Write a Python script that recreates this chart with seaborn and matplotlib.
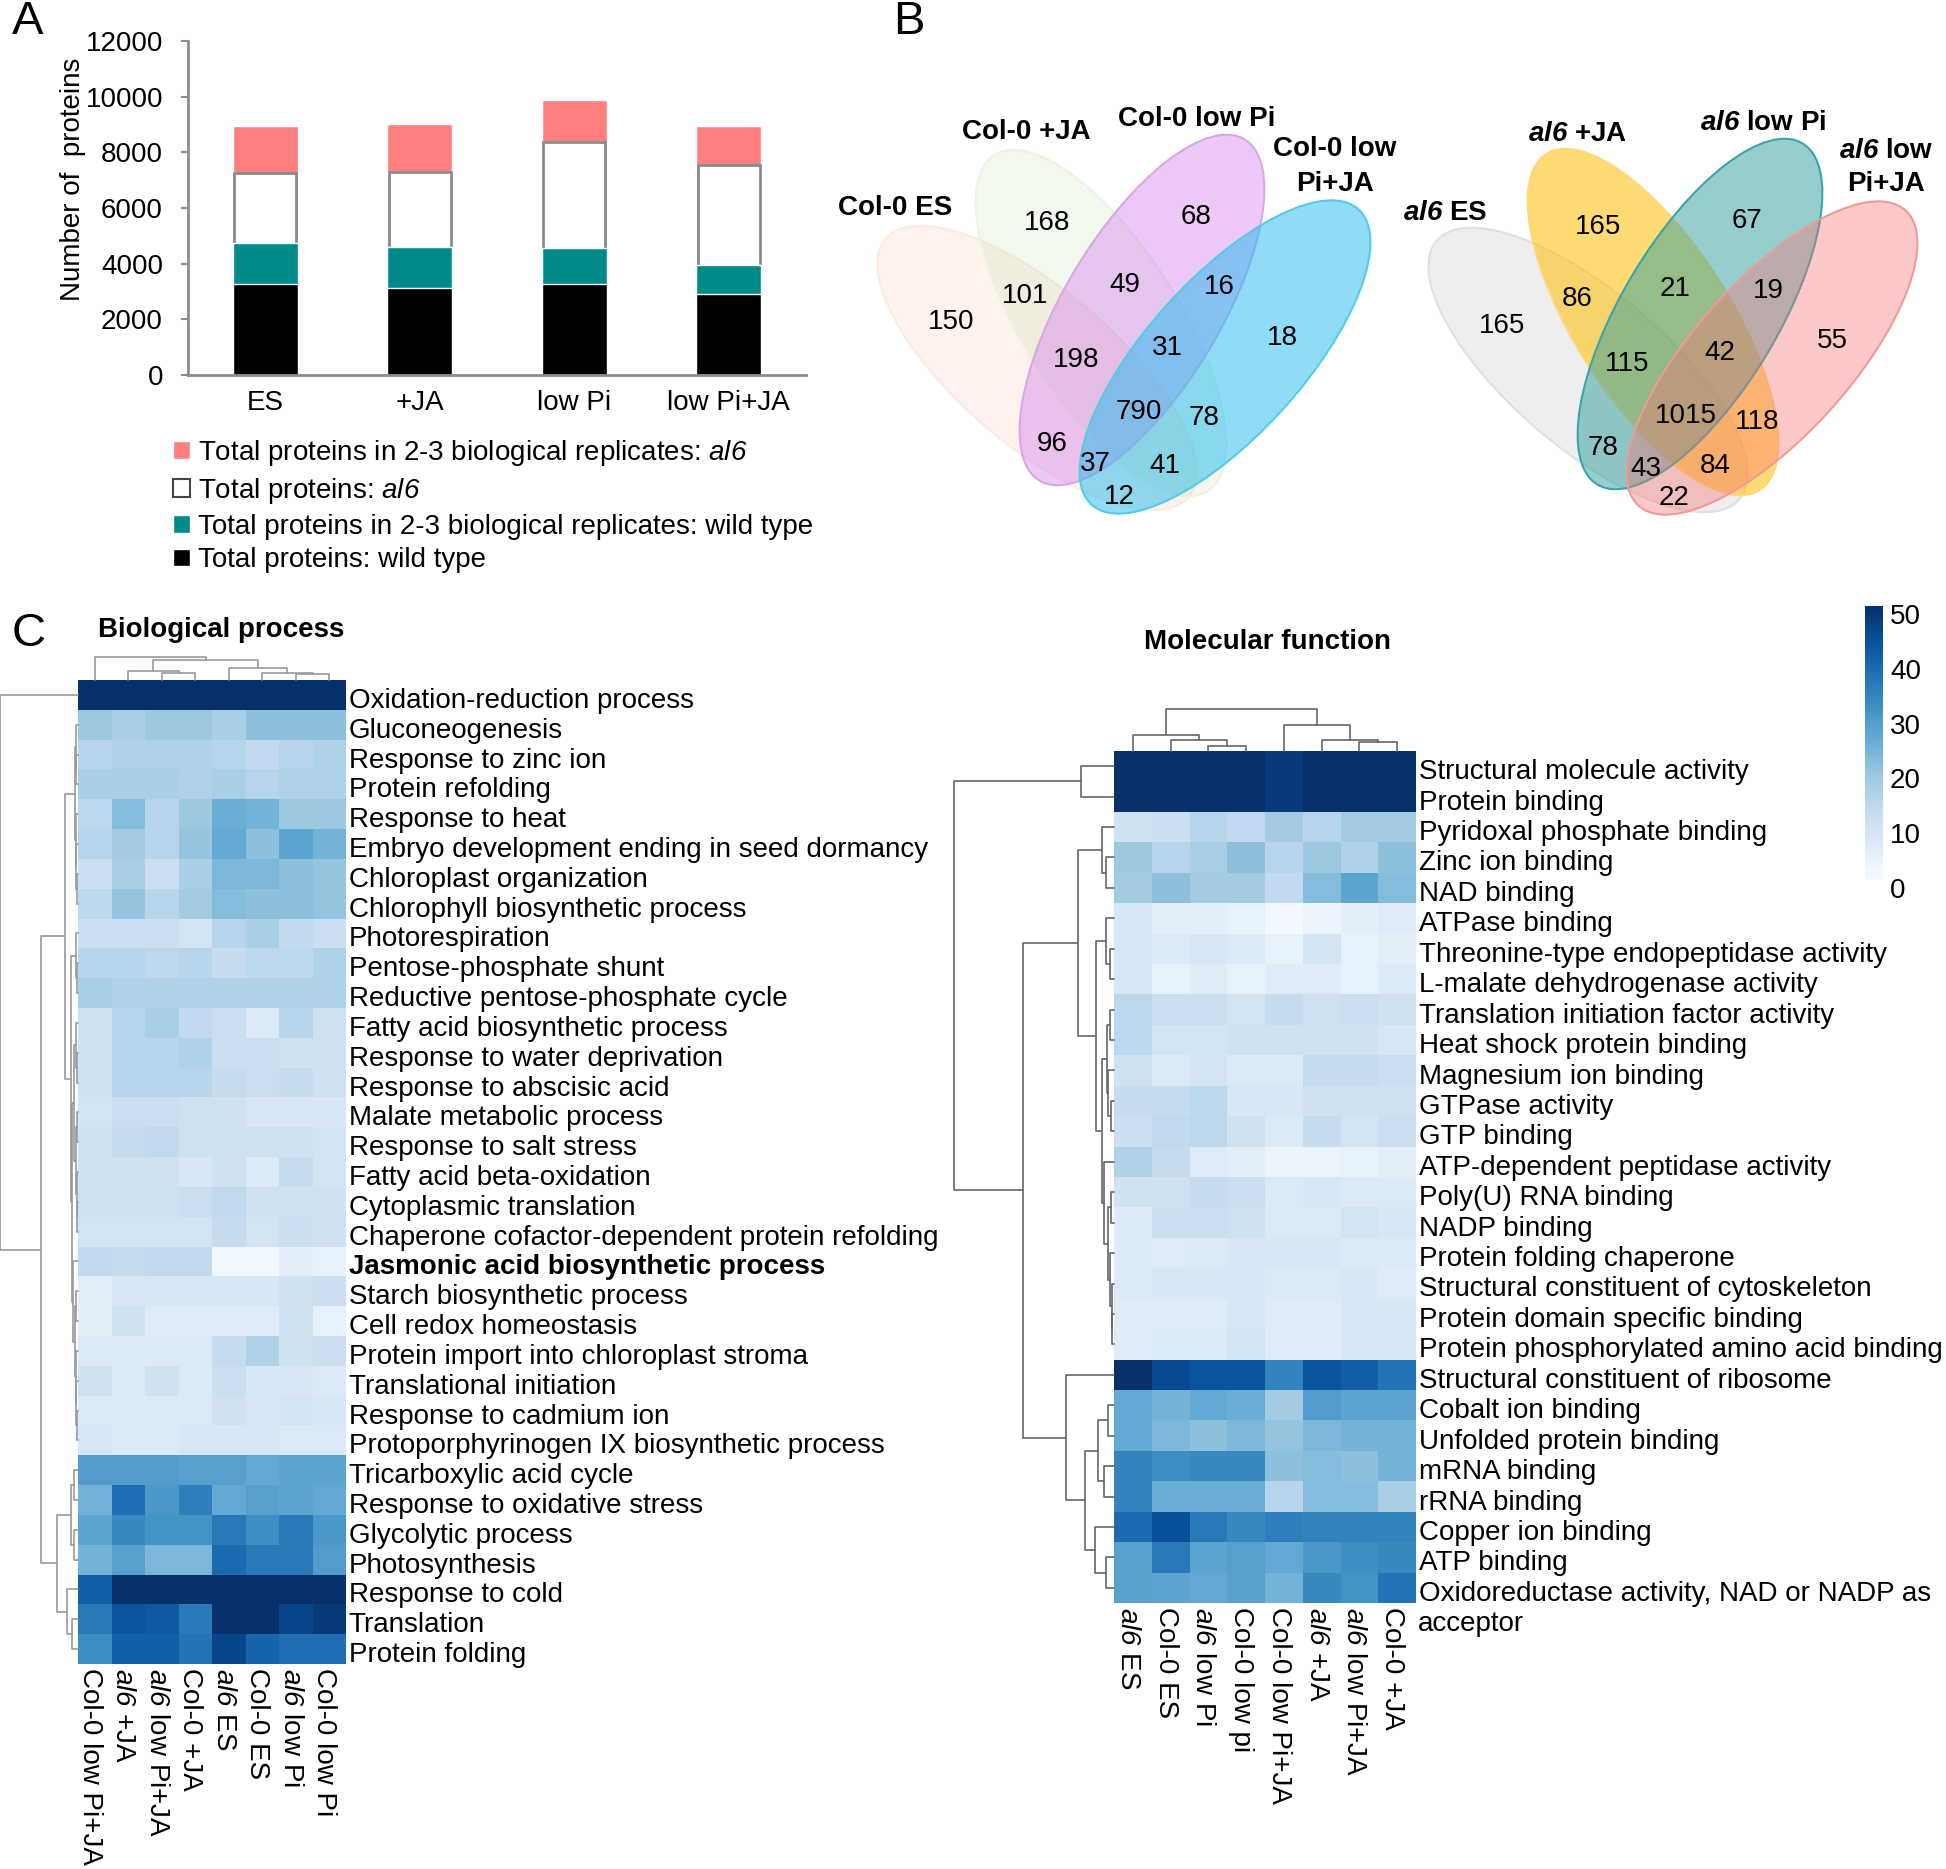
import numpy as np
import pandas as pd
import matplotlib
matplotlib.use('Agg')
import matplotlib.pyplot as plt
from matplotlib.patches import Ellipse, Patch
from matplotlib.transforms import ScaledTranslation
import seaborn as sns

W, H = 1946, 1869
FS = 20

# panel A
treatments = ['ES', '+JA', 'low Pi', 'low Pi+JA']
wt_total = [3270, 3120, 3270, 2910]
wt_reps = [1470, 1480, 1290, 1050]
al6_total = [2500, 2710, 3820, 3570]
al6_reps = [1720, 1720, 1490, 1430]
legend_labels = [r'Total proteins in 2-3 biological replicates: $\mathcal{al6}$',
                 r'Total proteins: $\mathcal{al6}$',
                 'Total proteins in 2-3 biological replicates: wild type',
                 'Total proteins: wild type']

# panel B, counts and their places in the picture
col_counts = ['150', '168', '68', '18', '101', '49', '16', '198', '31', '790', '78', '96', '37', '41', '12']
col_count_x = [951, 1047, 1196, 1282, 1025, 1125, 1219, 1076, 1167, 1139, 1204, 1052, 1095, 1165, 1119]
col_count_y = [322, 223, 217, 338, 296, 285, 287, 360, 348, 412, 418, 444, 464, 466, 497]
al6_counts = ['165', '165', '67', '55', '86', '21', '19', '115', '42', '1015', '118', '78', '43', '84', '22']
al6_count_x = [1502, 1598, 1747, 1832, 1577, 1675, 1768, 1627, 1720, 1686, 1757, 1603, 1646, 1715, 1674]
al6_count_y = [326, 227, 221, 341, 299, 289, 291, 364, 353, 416, 422, 448, 469, 466, 498]

# panel C
bp_columns = ['Col-0 low Pi+JA', r'$\mathcal{al6}$ +JA', r'$\mathcal{al6}$ low Pi+JA', 'Col-0 +JA',
              r'$\mathcal{al6}$ ES', 'Col-0 ES', r'$\mathcal{al6}$ low Pi', 'Col-0 low Pi']
bp_rows = ['Oxidation-reduction process', 'Gluconeogenesis', 'Response to zinc ion', 'Protein refolding',
           'Response to heat', 'Embryo development ending in seed dormancy', 'Chloroplast organization',
           'Chlorophyll biosynthetic process', 'Photorespiration', 'Pentose-phosphate shunt',
           'Reductive pentose-phosphate cycle', 'Fatty acid biosynthetic process', 'Response to water deprivation',
           'Response to abscisic acid', 'Malate metabolic process', 'Response to salt stress',
           'Fatty acid beta-oxidation', 'Cytoplasmic translation', 'Chaperone cofactor-dependent protein refolding',
           'Jasmonic acid biosynthetic process', 'Starch biosynthetic process', 'Cell redox homeostasis',
           'Protein import into chloroplast stroma', 'Translational initiation', 'Response to cadmium ion',
           'Protoporphyrinogen IX biosynthetic process', 'Tricarboxylic acid cycle', 'Response to oxidative stress',
           'Glycolytic process', 'Photosynthesis', 'Response to cold', 'Translation', 'Protein folding']
bp_values = [
    [50, 50, 50, 50, 50, 50, 50, 50],
    [19, 17, 19, 19, 17, 21, 21, 21],
    [15, 16, 16, 16, 15, 13, 15, 16],
    [17, 17, 17, 16, 17, 15, 16, 16],
    [14, 22, 15, 19, 25, 24, 19, 19],
    [15, 18, 15, 20, 26, 21, 27, 24],
    [11, 17, 11, 17, 23, 23, 21, 20],
    [14, 20, 15, 18, 22, 21, 21, 20],
    [11, 11, 11, 9, 15, 17, 13, 11],
    [15, 15, 14, 15, 12, 14, 14, 16],
    [17, 16, 16, 16, 16, 16, 16, 16],
    [10, 15, 17, 13, 11, 7, 15, 10],
    [10, 15, 15, 16, 11, 11, 10, 10],
    [10, 15, 15, 15, 12, 11, 12, 10],
    [9, 11, 11, 10, 10, 8, 8, 8],
    [10, 12, 13, 10, 10, 10, 10, 9],
    [10, 10, 10, 8, 10, 7, 12, 9],
    [10, 10, 10, 11, 13, 10, 10, 10],
    [9, 9, 9, 9, 12, 9, 11, 10],
    [13, 12, 13, 13, 2, 2, 5, 4],
    [5, 8, 8, 8, 8, 8, 10, 11],
    [5, 10, 6, 6, 6, 6, 10, 4],
    [7, 7, 7, 7, 12, 16, 10, 11],
    [10, 7, 10, 7, 11, 8, 8, 7],
    [7, 7, 7, 7, 10, 8, 9, 8],
    [8, 7, 7, 8, 8, 8, 7, 7],
    [29, 29, 29, 28, 28, 26, 27, 27],
    [24, 38, 30, 35, 26, 28, 27, 26],
    [27, 33, 31, 31, 36, 32, 36, 30],
    [24, 28, 23, 23, 39, 36, 36, 29],
    [41, 50, 50, 50, 50, 50, 50, 50],
    [36, 43, 42, 36, 50, 50, 46, 48],
    [32, 41, 41, 37, 46, 40, 38, 38],
]

mf_columns = [r'$\mathcal{al6}$ ES', 'Col-0 ES', r'$\mathcal{al6}$ low Pi', 'Col-0 low pi',
              'Col-0 low Pi+JA', r'$\mathcal{al6}$ +JA', r'$\mathcal{al6}$ low Pi+JA', 'Col-0 +JA']
mf_rows = ['Structural molecule activity', 'Protein binding', 'Pyridoxal phosphate binding', 'Zinc ion binding',
           'NAD binding', 'ATPase binding', 'Threonine-type endopeptidase activity', 'L-malate dehydrogenase activity',
           'Translation initiation factor activity', 'Heat shock protein binding', 'Magnesium ion binding',
           'GTPase activity', 'GTP binding', 'ATP-dependent peptidase activity', 'Poly(U) RNA binding', 'NADP binding',
           'Protein folding chaperone', 'Structural constituent of cytoskeleton', 'Protein domain specific binding',
           'Protein phosphorylated amino acid binding', 'Structural constituent of ribosome', 'Cobalt ion binding',
           'Unfolded protein binding', 'mRNA binding', 'rRNA binding', 'Copper ion binding', 'ATP binding',
           'Oxidoreductase activity, NAD or NADP as']
mf_values = [
    [50, 50, 50, 50, 48, 50, 50, 50],
    [50, 50, 50, 50, 48, 50, 50, 50],
    [10, 11, 15, 13, 18, 15, 18, 18],
    [19, 15, 17, 21, 15, 19, 16, 21],
    [18, 21, 18, 18, 13, 22, 27, 22],
    [8, 5, 5, 4, 1, 3, 5, 6],
    [8, 7, 8, 7, 4, 9, 4, 5],
    [8, 4, 6, 4, 6, 6, 4, 7],
    [14, 11, 11, 9, 12, 10, 11, 10],
    [14, 9, 9, 10, 10, 10, 10, 8],
    [10, 7, 9, 7, 7, 12, 12, 11],
    [12, 12, 14, 8, 8, 10, 10, 10],
    [11, 13, 14, 10, 7, 12, 9, 11],
    [16, 12, 6, 5, 3, 3, 4, 5],
    [10, 10, 12, 11, 7, 8, 7, 7],
    [7, 11, 11, 10, 7, 7, 9, 8],
    [7, 6, 7, 8, 8, 8, 7, 7],
    [7, 8, 8, 8, 7, 7, 8, 6],
    [6, 6, 6, 8, 6, 6, 8, 8],
    [6, 7, 7, 9, 6, 6, 8, 8],
    [50, 45, 43, 43, 34, 43, 41, 37],
    [26, 24, 26, 25, 18, 29, 27, 27],
    [26, 23, 21, 23, 20, 23, 24, 24],
    [34, 32, 33, 33, 21, 22, 21, 24],
    [34, 25, 25, 25, 15, 22, 22, 17],
    [39, 44, 36, 33, 35, 34, 34, 34],
    [28, 36, 27, 28, 26, 30, 32, 33],
    [28, 27, 26, 28, 24, 33, 31, 37],
]

# dendrograms as nested (height, left, right), ints are leaves
bp_col_tree = (23, 0, (20, (9, 1, (6.7, 2, 3)), (11.6, 4, (7, 5, (6.5, 6, 7)))))
bp_row_tree = (78, 0, (37,
    (13, (3, (2.5, 1, (2, 2, 3)), (2.5, 4, (2, 5, (1, 6, 7)))),
         (7, (2.5, 8, (1.5, 9, 10)),
             (6, (4, (2.5, 11, (1.5, 12, 13)), (2, (1.5, 14, 15), (1.5, 16, (1, 17, 18)))),
                 (5, 19, (3, (2, 20, 21), (2.5, 22, (2, 23, (1, 24, 25)))))))),
    (21, (7, (4, 26, 27), (4.5, 28, 29)), (11, 30, (6, 31, 32)))))
mf_col_tree = (42, (15.6, 0, (11, 1, (5.4, 2, 3))), (26, 4, (10.7, 5, (8.5, 6, 7))))
mf_row_tree = (160, (33, 0, 1), (91,
    (36, (12, 2, (8, 3, 4)),
         (18, (8, 5, (4, 6, 7)),
              (12.3, (6.7, (4, 8, 9), (6.5, 10, (3, 11, 12))),
                     (10.5, 13, (6, (3.5, 14, 15), (4, 16, (2.5, 17, (2, 18, 19)))))))),
    (48, 20, (29, (16, (6, 21, 22), (10, 23, 24)), (19, 25, (8, 26, 27))))))

sns.set_style('white')
plt.rcParams.update({'font.family': ['Liberation Sans', 'DejaVu Sans'], 'font.size': FS,
                     'text.color': 'black', 'axes.labelcolor': 'black',
                     'xtick.color': 'black', 'ytick.color': 'black',
                     'mathtext.fontset': 'custom', 'mathtext.rm': 'Liberation Sans',
                     'mathtext.it': 'Liberation Sans:italic', 'mathtext.bf': 'Liberation Sans:bold',
                     'mathtext.cal': 'Liberation Sans:italic',
                     'mathtext.bfit': 'Liberation Sans:italic:bold'})

fig = plt.figure(figsize=(W / 100, H / 100), dpi=100)


def px_axes(x0, y0, x1, y1):
    return fig.add_axes([x0 / W, 1 - y1 / H, (x1 - x0) / W, (y1 - y0) / H])


def px_shift(dx, dy):
    # offset in picture pixels, dy downwards
    return ScaledTranslation(dx / 100, -dy / 100, fig.dpi_scale_trans)


def draw_tree(ax, node, rows, color):
    """Draw a nested (height, left, right) tree, returns position and height of the node"""
    if isinstance(node, int):
        return node + 0.5, 0
    h, left, right = node
    p1, h1 = draw_tree(ax, left, rows, color)
    p2, h2 = draw_tree(ax, right, rows, color)
    dist, pos = [h1, h, h, h2], [p1, p1, p2, p2]
    if rows:
        ax.plot(dist, pos, color=color, lw=1.2, clip_on=False)
    else:
        ax.plot(pos, dist, color=color, lw=1.2, clip_on=False)
    return (p1 + p2) / 2, h


def clustered_heatmap(box, values, rows, columns, row_tree, col_tree, row_room, col_room, color, cbar_ax=None):
    x0, y0, x1, y1 = box
    ax = px_axes(x0, y0, x1, y1)
    df = pd.DataFrame(values, index=rows, columns=columns)
    sns.heatmap(df, ax=ax, cmap='Blues', vmin=0, vmax=50, cbar=cbar_ax is not None, cbar_ax=cbar_ax,
                xticklabels=True, yticklabels=True)
    ax.yaxis.tick_right()
    ax.tick_params(axis='y', length=0, pad=2, labelsize=FS, labelrotation=0)
    ax.tick_params(axis='x', length=0, pad=3, labelsize=FS)
    plt.setp(ax.get_xticklabels(), rotation=-90, ha='center', va='top')
    # the labels do not sit quite in the middle of their columns and rows
    for lab in ax.get_xticklabels():
        lab.set_transform(lab.get_transform() + px_shift(-5, 0))
    for lab in ax.get_yticklabels():
        lab.set_transform(lab.get_transform() + px_shift(0, 3))
    ax.set_xlabel('')
    ax.set_ylabel('')

    ax_rows = px_axes(x0 - row_room, y0, x0, y1)
    ax_rows.set_xlim(row_room, 0)
    ax_rows.set_ylim(len(rows), 0)
    ax_rows.axis('off')
    draw_tree(ax_rows, row_tree, True, color)

    ax_cols = px_axes(x0, y0 - col_room, x1, y0)
    ax_cols.set_xlim(0, len(columns))
    ax_cols.set_ylim(0, col_room)
    ax_cols.axis('off')
    draw_tree(ax_cols, col_tree, False, color)
    return ax


# A
ax_a = px_axes(188, 41, 806, 375)
tops = np.cumsum([wt_total, wt_reps, al6_total, al6_reps], axis=0)
sns.barplot(x=treatments, y=tops[3], ax=ax_a, color='#ff7f7f', saturation=1, width=0.42)
sns.barplot(x=treatments, y=tops[2], ax=ax_a, color='white', saturation=1, width=0.40, edgecolor='#8c8c8c', linewidth=2)
sns.barplot(x=treatments, y=tops[1], ax=ax_a, color='#008b8b', saturation=1, width=0.42)
sns.barplot(x=treatments, y=tops[0], ax=ax_a, color='black', saturation=1, width=0.42)
ax_a.set_xlim(-0.5, 3.5)
ax_a.set_ylim(0, 12000)
ax_a.set_yticks(np.arange(0, 12001, 2000))
ax_a.set_ylabel('Number of  proteins', fontsize=FS)
ax_a.yaxis.set_label_coords(-0.165, 0.587)
sns.despine(ax=ax_a)
for side in ['left', 'bottom']:
    ax_a.spines[side].set_color('#8c8c8c')
    ax_a.spines[side].set_linewidth(2)
ax_a.tick_params(axis='y', left=True, length=5, width=1.5, color='#8c8c8c', pad=13, labelsize=FS)
ax_a.tick_params(axis='x', bottom=False, pad=7, labelsize=FS)
handles = [Patch(facecolor='#ff7f7f'), Patch(facecolor='white', edgecolor='#444444', linewidth=1.5),
           Patch(facecolor='#008b8b'), Patch(facecolor='black')]
fig.legend(handles, legend_labels, loc='upper left', bbox_to_anchor=(173 / W, 1 - 438 / H), frameon=False,
           fontsize=FS, handlelength=0.6, handleheight=0.6, handletextpad=0.3, labelspacing=0.28,
           borderpad=0, borderaxespad=0)

# overlay in picture pixels for the venn diagrams and the free text
over = fig.add_axes([0, 0, 1, 1])
over.set_xlim(0, W)
over.set_ylim(H, 0)
over.axis('off')
over.patch.set_alpha(0)

# B
col_ellipses = [((1037, 368), 40.5, '#f5b183', 0.15, '#faece2'),
                ((1101, 323), 57.6, '#a9d08e', 0.15, '#eaf3e4'),
                ((1142, 310), -59, '#cc66ee', 0.35, '#dba6e6'),
                ((1225, 357), -47.9, '#22bbee', 0.5, '#55cce5')]
al6_ellipses = [((1588, 370), 40.5, '#bfbfbf', 0.25, '#e0e0e0'),
                ((1653, 322), 57.6, '#ffc000', 0.55, '#ffd778'),
                ((1700, 314), -59, '#2e9e9e', 0.5, '#3aa5a8'),
                ((1772, 358), -47.9, '#f87070', 0.38, '#ee9a96')]
for centre, angle, face, alpha, edge in col_ellipses + al6_ellipses:
    over.add_patch(Ellipse(centre, 398, 156, angle=angle, facecolor=matplotlib.colors.to_rgba(face, alpha),
                           edgecolor=edge, lw=1.5))
for labs, xs, ys in [(col_counts, col_count_x, col_count_y), (al6_counts, al6_count_x, al6_count_y)]:
    for lab, x, y in zip(labs, xs, ys):
        over.text(x, y, lab, ha='center', va='center', fontsize=FS)
venn_names = [(895, 208, 'Col-0 ES'), (1026, 132, 'Col-0 +JA'), (1197, 119, 'Col-0 low Pi'),
              (1335, 149, 'Col-0 low'), (1335, 184, 'Pi+JA'),
              (1445, 213, r'$\mathbfit{al6}$ ES'), (1578, 134, r'$\mathbfit{al6}$ +JA'),
              (1763, 123, r'$\mathbfit{al6}$ low Pi'), (1886, 151, r'$\mathbfit{al6}$ low'), (1886, 184, 'Pi+JA')]
for x, y, name in venn_names:
    over.text(x, y, name, ha='center', va='center', fontsize=FS, fontweight='bold')

# C
ax_bp = clustered_heatmap((78, 680, 346, 1664), bp_values, bp_rows, bp_columns, bp_row_tree, bp_col_tree,
                          78, 40, '#999999')
ax_bp.get_yticklabels()[bp_rows.index('Jasmonic acid biosynthetic process')].set_fontweight('bold')

cax = px_axes(1865, 606, 1883, 880)
ax_mf = clustered_heatmap((1114, 751, 1416, 1603), mf_values, mf_rows, mf_columns, mf_row_tree, mf_col_tree,
                          164, 51, '#666666', cbar_ax=cax)
ax_mf.text(1.007, 28.7, 'acceptor', transform=ax_mf.get_yaxis_transform(), va='center', fontsize=FS)
cax.set_yticks([0, 10, 20, 30, 40, 50])
cax.tick_params(length=0, pad=5, labelsize=FS)
for lab in cax.get_yticklabels():
    lab.set_transform(lab.get_transform() + px_shift(0, 8))
cax.collections[0].set_edgecolor('face')

over.text(221, 630, 'Biological process', ha='center', va='center', fontsize=FS, fontweight='bold')
over.text(1268, 642, 'Molecular function', ha='center', va='center', fontsize=FS, fontweight='bold')
for x, y, letter in [(12, 34, 'A'), (893, 34, 'B'), (12, 646, 'C')]:
    over.text(x, y, letter, ha='left', va='baseline', fontsize=34)

fig.savefig('out.png', dpi=100)
